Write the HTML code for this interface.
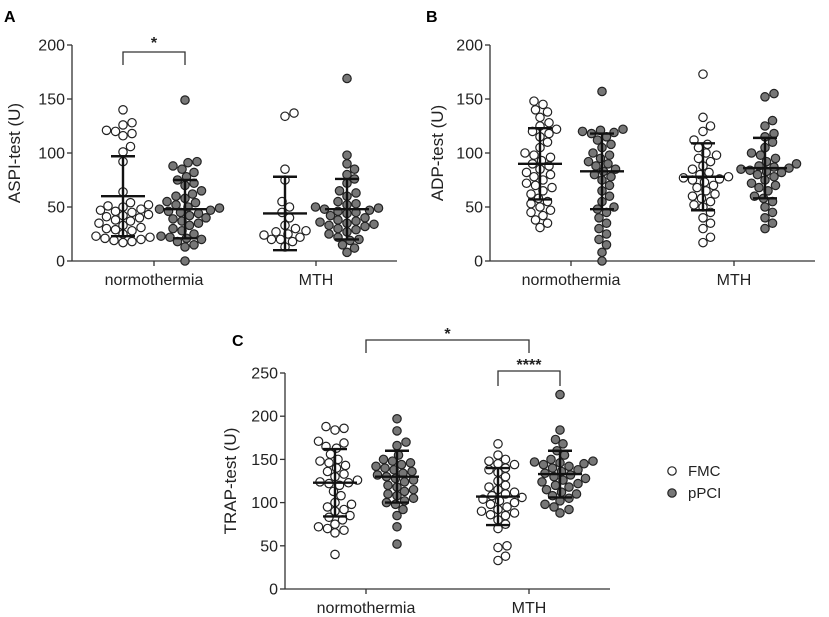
<!DOCTYPE html>
<html><head><meta charset="utf-8"><style>
body{margin:0;background:#fff;}
svg{display:block;font-family:"Liberation Sans",Arial,sans-serif;}
</style></head><body>
<svg id="fig" width="829" height="617" viewBox="0 0 829 617">
<text x="4" y="22" font-size="16" font-weight="bold">A</text>
<text x="426" y="22" font-size="16" font-weight="bold">B</text>
<text x="232" y="346" font-size="16" font-weight="bold">C</text>
<g>
<circle cx="672" cy="471" r="4.2" fill="#fff" stroke="#222" stroke-width="1.2"/>
<text x="688" y="476" font-size="15" fill="#222">FMC</text>
<circle cx="672" cy="493" r="4.2" fill="#777" stroke="#222" stroke-width="1.2"/>
<text x="688" y="498" font-size="15" fill="#222">pPCI</text>
</g>
</svg>
<script>
const A_FMC_N=[140,128,126,121,120,118,116,106,101,92,64,54,52,51,50,48,47,46,45,43,42,41,40,38,37,35,33,31,30,29,28,25,23,22,21,20,19,18,17];
const A_PPCI_N=[149,92,91,88,85,82,78,75,72,70,65,62,60,58,55,54,52,50,49,48,47,46,45,44,42,40,39,37,35,33,30,28,25,23,22,21,20,18,15,13,0];
const A_FMC_M=[137,134,85,75,55,50,45,40,33,30,28,27,25,24,22,20,20,18,13];
const A_PPCI_M=[169,98,90,85,80,76,72,65,63,60,55,53,52,50,49,48,47,46,45,44,42,40,38,37,36,35,34,33,32,30,29,27,25,22,20,19,15,12,8];
const A_MEAN=[60,48,44,48];
const A_SD=[37,27,34,28];
const B_FMC_N=[148,145,140,138,133,128,125,122,120,118,115,110,105,100,98,96,93,90,88,85,82,80,78,75,72,70,68,65,62,58,55,53,50,47,45,42,38,35,31];
const B_PPCI_N=[157,122,121,120,119,118,115,112,108,105,100,98,95,92,90,88,85,83,80,78,75,70,65,60,55,50,48,45,40,35,30,25,20,15,8,0];
const B_FMC_M=[173,133,125,120,112,108,105,100,98,95,92,88,85,82,80,78,77,76,75,73,70,68,65,62,60,58,55,52,50,45,40,35,30,22,17];
const B_PPCI_M=[155,152,130,125,118,115,110,105,100,98,95,92,90,88,87,86,85,84,83,82,80,78,75,72,70,68,65,60,58,55,50,45,40,35,30];
const B_MEAN=[90,83,78,86];
const B_SD=[33,35,31,28];
const C_FMC_N=[188,186,184,171,169,165,163,156,150,148,146,143,140,136,133,130,126,124,123,122,120,113,108,100,98,95,92,90,85,83,80,75,72,70,68,65,40];
const C_PPCI_N=[197,183,170,166,155,150,148,146,144,142,140,138,136,134,132,130,128,126,124,120,118,115,113,110,108,105,102,100,98,92,85,72,52];
const C_FMC_M=[168,155,150,148,145,144,140,138,135,130,125,120,118,115,112,110,108,106,104,102,100,98,95,92,90,88,86,85,80,75,70,50,48,38,33];
const C_PPCI_M=[225,184,173,168,160,155,150,148,147,146,145,144,142,140,138,136,134,132,130,128,126,124,122,120,118,115,112,110,108,105,102,98,95,92,88];
const C_MEAN=[123,130,107,133];
const C_SD=[39,30,33,27];
const CATEGORIES=["normothermia","MTH"];
const SERIES=["fmc","ppci"];
const TICKS_AB=[0,50,100,150,200];
const TICKS_C=[0,50,100,150,200,250];

const NS="http://www.w3.org/2000/svg";
const svg=document.getElementById('fig');
function mk(tag,attrs,parent){const e=document.createElementNS(NS,tag);for(const k in attrs)e.setAttribute(k,attrs[k]);(parent||svg).appendChild(e);return e;}

function panel(cfg){
  const g=mk('g',{});
  
  
  const ys=v=>cfg.y0+(v-cfg.vmin)/(cfg.vmax-cfg.vmin)*(cfg.y1-cfg.y0);
  const ax=mk('line',{x1:cfg.ax,y1:cfg.y0,x2:cfg.ax,y2:cfg.y1,stroke:'#333','stroke-width':1.3},g);
  
  
  const xa=mk('line',{x1:cfg.ax,y1:cfg.y0,x2:cfg.xend,y2:cfg.y0,stroke:'#333','stroke-width':1.3},g);
  
  
  cfg.ticks.forEach(t=>{
    const y=ys(t);
    mk('line',{x1:cfg.ax-5,y1:y,x2:cfg.ax,y2:y,stroke:'#333','stroke-width':1.3},g);
    const tx=mk('text',{x:cfg.ax-7,y:y+5.5,'font-size':16,'text-anchor':'end',fill:'#222'},g);
    tx.textContent=t;
    
    
  });
  CATEGORIES.forEach((c,i)=>{
    const x=cfg.cat[i];
    mk('line',{x1:x,y1:cfg.y0,x2:x,y2:cfg.y0+5,stroke:'#333','stroke-width':1.3},g);
    const tx=mk('text',{x:x,y:cfg.y0+24,'font-size':16,'text-anchor':'middle',fill:'#222'},g);
    tx.textContent=c;
    
    
  });
  const yt=mk('text',{x:0,y:0,'font-size':17,'text-anchor':'middle',fill:'#222',transform:`translate(${cfg.titleX},${(cfg.y0+cfg.y1)/2}) rotate(-90)`},g);
  yt.textContent=cfg.title;
  
  
  const r=4.2;
  cfg.groups.forEach((vals,gi)=>{
    const cx=cfg.cat[gi>>1]+(gi%2?31:-31);
    const fill=gi%2?'#777':'#fff';
    const placed=[];
    [...vals].sort((a,b)=>a-b).forEach(v=>{
      const y=ys(v);let best=0;
      for(let k=0;k<40;k++){
        const cands=k===0?[0]:[k*1.5,-k*1.5];let ok=null;
        for(const o of cands){if(placed.every(p=>(p[0]-o)**2+(p[1]-y)**2>=(2*r)**2)){ok=o;break;}}
        if(ok!==null){best=ok;break;}
      }
      placed.push([best,y]);
      const c=mk('circle',{cx:cx+best,cy:y,r:r,fill:fill,stroke:'#222','stroke-width':1.2},g);
      
      
    });
    const m=cfg.mean[gi],s=cfg.sd[gi];
    const eb=mk('g',{stroke:'#111','stroke-width':2.4},g);
    
    
    mk('line',{x1:cx,y1:ys(m-s),x2:cx,y2:ys(m+s)},eb);
    mk('line',{x1:cx-22,y1:ys(m),x2:cx+22,y2:ys(m)},eb);
    mk('line',{x1:cx-12,y1:ys(m-s),x2:cx+12,y2:ys(m-s)},eb);
    mk('line',{x1:cx-12,y1:ys(m+s),x2:cx+12,y2:ys(m+s)},eb);
  });
}
panel({name:'panel-a-aspi',ax:72,xend:397,y0:261,y1:45,vmin:0,vmax:200,ticks:TICKS_AB,cat:[154,316],title:'ASPI-test (U)',titleX:20,
  groups:[A_FMC_N,A_PPCI_N,A_FMC_M,A_PPCI_M],mean:A_MEAN,sd:A_SD});
panel({name:'panel-b-adp',ax:490,xend:815,y0:261,y1:45,vmin:0,vmax:200,ticks:TICKS_AB,cat:[571,734],title:'ADP-test (U)',titleX:443,
  groups:[B_FMC_N,B_PPCI_N,B_FMC_M,B_PPCI_M],mean:B_MEAN,sd:B_SD});
panel({name:'panel-c-trap',ax:285,xend:610,y0:589,y1:373,vmin:0,vmax:250,ticks:TICKS_C,cat:[366,529],title:'TRAP-test (U)',titleX:236,
  groups:[C_FMC_N,C_PPCI_N,C_FMC_M,C_PPCI_M],mean:C_MEAN,sd:C_SD});

function bracket(x1,x2,ytop,ybot,label,ty,name){
  const g=mk('g',{});
  
  
  mk('path',{d:`M${x1},${ybot} V${ytop} H${x2} V${ybot}`,fill:'none',stroke:'#333','stroke-width':1.3},g);
  const t=mk('text',{x:(x1+x2)/2,y:ty,'font-size':16,'font-weight':'bold','text-anchor':'middle',fill:'#222'},g);
  t.textContent=label;
}
bracket(123,185,52,65,'*',48,'significance-bracket-a');
bracket(366,529,340,353,'*',339,'significance-bracket-c-group');
bracket(498,560,371,386,'****',370,'significance-bracket-c-mth');
</script>
</body></html>
